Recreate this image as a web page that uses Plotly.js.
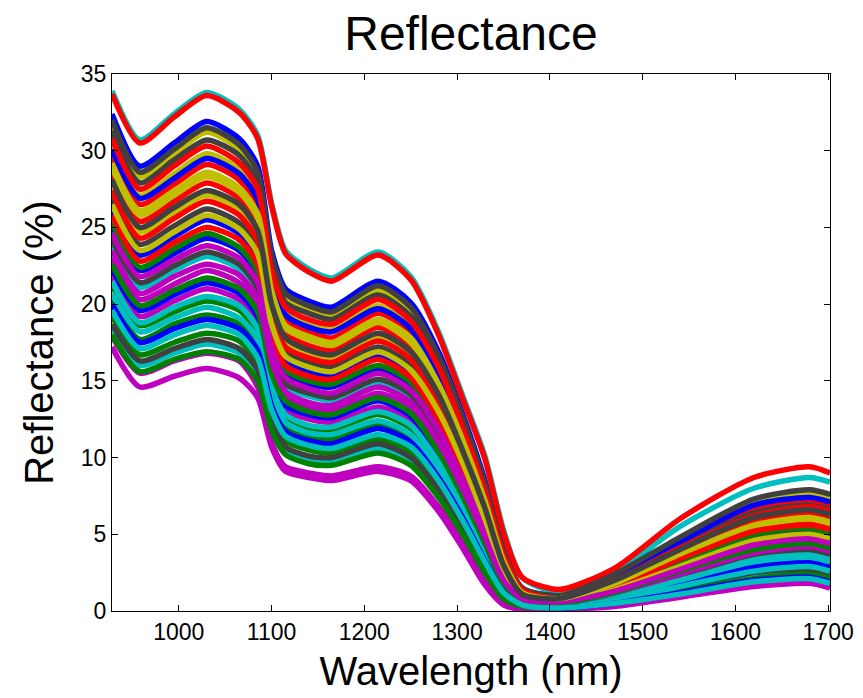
<!DOCTYPE html>
<html>
<head>
<meta charset="utf-8">
<script src="https://cdn.plot.ly/plotly-3.0.1.min.js"></script>
<style>html,body{margin:0;padding:0;background:#fff;}#chart{width:863px;height:698px;}</style>
</head>
<body>
<div id="chart"></div>
<script>
// Wavelength sampling points (nm)
const wavelength = [928, 958, 995, 1030, 1065, 1085, 1100, 1115, 1140, 1165, 1215, 1250, 1280, 1305, 1330, 1350, 1370, 1410, 1470, 1540, 1620, 1680, 1702];

// Axis tick values
const xTicks = [1000, 1100, 1200, 1300, 1400, 1500, 1600, 1700];
const yTicks = [0, 5, 10, 15, 20, 25, 30, 35];

// Reflectance spectra (%), one array per sample, in plotting order
const s00 = [25.1,22.2,23.3,24.3,23.5,21.9,17.5,15.5,14.8,14.6,15.8,14.7,12.1,9.0,5.4,2.4,0.9,0.7,1.5,3.2,4.9,5.3,5.0];
const s01 = [21.2,18.6,19.5,20.2,19.6,18.1,14.4,12.6,11.9,11.8,12.8,11.9,9.5,6.8,3.8,1.5,0.6,0.4,1.0,2.1,3.4,3.7,3.4];
const s02 = [28.5,25.4,26.7,27.9,26.9,25.2,20.3,18.1,17.3,17.0,18.5,17.2,14.3,10.9,6.9,3.1,1.2,0.7,1.7,3.5,5.3,5.8,5.5];
const s03 = [33.9,30.7,32.4,33.8,32.7,31.0,26.6,23.5,22.3,21.7,23.4,21.8,18.2,14.2,10.1,5.3,2.2,1.2,2.5,5.5,8.0,8.7,8.4];
const s04 = [23.0,20.3,21.3,22.2,21.4,19.9,15.9,14.0,13.3,13.1,14.2,13.3,10.7,7.9,4.6,1.9,0.7,0.5,1.3,2.6,4.1,4.5,4.2];
const s05 = [31.7,28.3,29.8,31.2,30.1,28.3,22.9,20.5,19.7,19.3,20.9,19.6,16.4,12.6,8.2,3.8,1.4,0.9,2.1,4.3,6.5,7.1,6.8];
const s06 = [26.9,23.9,25.1,26.2,25.3,23.7,19.1,16.9,16.2,15.9,17.2,16.0,13.3,10.0,6.2,2.8,1.0,0.6,1.5,3.1,4.7,5.1,4.8];
const s07 = [32.4,29.0,30.5,31.9,30.8,29.0,23.5,21.0,20.2,19.8,21.5,20.1,16.9,13.0,8.5,4.0,1.5,1.0,2.3,4.7,7.1,7.7,7.4];
const s08 = [19.2,16.7,17.5,18.1,17.6,16.1,12.7,11.1,10.5,10.3,11.2,10.4,8.2,5.7,3.0,1.1,0.4,0.2,0.4,1.0,1.7,1.9,1.6];
const s09 = [33.7,30.5,32.2,33.6,32.5,30.8,26.4,23.3,22.1,21.5,23.2,21.6,18.0,14.0,9.9,5.1,2.2,1.4,2.8,6.0,8.7,9.4,9.0];
const s10 = [23.9,21.1,22.2,23.1,22.3,20.7,16.6,14.6,14.0,13.7,14.9,13.9,11.3,8.3,5.0,2.1,0.8,0.5,1.0,2.2,3.5,3.8,3.5];
const s11 = [17.2,14.6,15.3,15.8,15.2,13.9,10.7,9.1,8.7,8.5,9.1,8.5,6.5,4.2,1.7,0.4,0.1,0.1,0.3,0.9,1.6,1.8,1.5];
const s12 = [30.4,27.1,28.5,29.8,28.8,27.0,21.9,19.5,18.7,18.4,19.9,18.6,15.6,11.9,7.7,3.6,1.3,1.0,2.3,4.6,7.0,7.6,7.3];
const s13 = [24.2,21.4,22.5,23.4,22.6,21.0,16.8,14.8,14.2,13.9,15.1,14.1,11.5,8.5,5.1,2.2,0.8,0.5,1.1,2.3,3.7,4.0,3.7];
const s14 = [26.2,23.2,24.4,25.5,24.6,23.0,18.5,16.4,15.6,15.4,16.7,15.5,12.8,9.6,5.9,2.6,1.0,0.6,1.4,2.9,4.4,4.8,4.5];
const s15 = [20.3,17.7,18.7,19.3,18.7,17.2,13.7,11.9,11.3,11.2,12.1,11.2,8.9,6.4,3.5,1.3,0.5,0.4,0.9,1.9,3.0,3.3,3.0];
const s16 = [29.7,26.5,27.8,29.1,28.1,26.3,21.3,19.0,18.2,17.8,19.4,18.1,15.1,11.5,7.4,3.4,1.3,0.9,2.2,4.4,6.7,7.2,6.9];
const s17 = [18.4,16.0,16.8,17.4,16.8,15.4,12.2,10.5,9.9,9.8,10.6,9.8,7.7,5.3,2.7,0.9,0.3,0.3,0.6,1.4,2.3,2.6,2.3];
const s18 = [21.9,19.2,20.2,21.0,20.3,18.8,15.0,13.1,12.5,12.3,13.3,12.4,10.0,7.2,4.1,1.7,0.6,0.4,0.8,1.7,2.8,3.0,2.7];
const s19 = [27.8,24.7,26.0,27.1,26.2,24.5,19.8,17.5,16.8,16.5,17.9,16.7,13.9,10.5,6.6,3.0,1.1,0.8,1.9,3.9,6.0,6.5,6.2];
const s20 = [31.3,27.9,29.4,30.7,29.7,27.9,22.6,20.1,19.4,19.0,20.6,19.2,16.1,12.4,8.0,3.7,1.4,0.9,2.1,4.2,6.4,6.9,6.6];
const s21 = [22.3,19.6,20.6,21.4,20.7,19.2,15.3,13.4,12.8,12.6,13.7,12.7,10.3,7.5,4.3,1.8,0.7,0.4,0.8,1.8,2.9,3.2,2.9];
const s22 = [25.3,22.4,23.6,24.6,23.7,22.1,17.8,15.7,15.0,14.8,16.0,14.9,12.3,9.1,5.6,2.4,0.9,0.7,1.6,3.2,5.0,5.4,5.1];
const s23 = [27.4,24.3,25.6,26.7,25.8,24.1,19.4,17.2,16.5,16.2,17.6,16.4,13.6,10.2,6.4,2.9,1.1,0.8,1.9,3.8,5.8,6.3,6.0];
const s24 = [20.7,18.2,19.1,19.8,19.1,17.7,14.0,12.3,11.6,11.5,12.4,11.5,9.2,6.6,3.6,1.4,0.5,0.4,0.9,2.0,3.2,3.5,3.2];
const s25 = [17.9,15.5,16.3,16.8,16.3,14.6,11.0,9.4,9.0,8.8,9.4,8.8,6.8,4.5,1.9,0.5,0.2,0.2,0.5,1.2,2.0,2.2,1.9];
const s26 = [28.9,25.8,27.1,28.3,27.3,25.6,20.7,18.4,17.7,17.3,18.8,17.5,14.6,11.1,7.1,3.2,1.2,0.7,1.8,3.6,5.5,6.0,5.7];
const s27 = [18.7,16.3,17.1,17.7,17.1,15.7,12.4,10.7,10.1,10.0,10.9,10.0,7.9,5.5,2.8,1.0,0.4,0.3,0.7,1.5,2.5,2.7,2.4];
const s28 = [30.1,26.9,28.2,29.5,28.5,26.8,21.6,19.3,18.5,18.2,19.7,18.4,15.4,11.7,7.5,3.5,1.3,0.9,2.2,4.5,6.9,7.4,7.1];
const s29 = [18.0,15.6,16.4,16.9,16.4,15.0,11.8,10.2,9.6,9.5,10.3,9.5,7.4,5.1,2.5,0.8,0.3,0.3,0.6,1.3,2.1,2.4,2.1];
const s30 = [25.8,22.8,24.0,25.0,24.2,22.6,18.1,16.0,15.3,15.1,16.4,15.2,12.5,9.4,5.7,2.5,1.0,0.7,1.6,3.4,5.2,5.6,5.3];
const s31 = [21.5,18.8,19.8,20.5,19.9,18.4,14.6,12.8,12.1,12.0,13.0,12.1,9.7,7.0,3.9,1.6,0.6,0.3,0.7,1.6,2.6,2.9,2.6];
const s32 = [24.6,21.8,22.9,23.8,23.0,21.4,17.2,15.2,14.5,14.2,15.5,14.4,11.8,8.7,5.3,2.3,0.9,0.5,1.2,2.4,3.8,4.2,3.9];
const s33 = [26.5,23.5,24.7,25.8,24.9,23.3,18.7,16.6,15.9,15.6,16.9,15.7,13.0,9.8,6.0,2.7,1.0,0.6,1.4,2.9,4.6,5.0,4.7];
const s34 = [32.0,28.6,30.1,31.5,30.4,28.6,23.2,20.7,19.9,19.5,21.2,19.8,16.6,12.8,8.3,3.9,1.5,1.0,2.4,4.8,7.3,7.9,7.6];
const s35 = [20.0,17.5,18.4,19.0,18.4,17.0,13.4,11.7,11.1,10.9,11.9,11.0,8.7,6.2,3.3,1.3,0.5,0.2,0.5,1.2,2.0,2.2,1.9];
const s36 = [22.6,19.9,20.9,21.7,21.0,19.5,15.5,13.7,13.0,12.8,13.9,12.9,10.4,7.6,4.4,1.8,0.7,0.5,1.2,2.6,4.0,4.4,4.1];
const s37 = [30.8,27.5,29.0,30.3,29.2,27.5,22.2,19.8,19.0,18.7,20.3,18.9,15.9,12.1,7.8,3.7,1.4,0.8,2.0,4.1,6.2,6.8,6.5];
const s38 = [19.6,17.1,18.0,18.6,18.0,16.5,13.1,11.4,10.8,10.6,11.5,10.7,8.5,6.0,3.2,1.2,0.4,0.2,0.5,1.1,1.9,2.1,1.8];
const s39 = [23.5,20.7,21.8,22.6,21.9,20.3,16.3,14.3,13.6,13.4,14.6,13.6,11.0,8.1,4.8,2.0,0.8,0.6,1.3,2.7,4.3,4.7,4.4];
const s40 = [29.2,26.1,27.4,28.6,27.6,25.9,20.9,18.6,17.9,17.5,19.0,17.8,14.8,11.3,7.2,3.3,1.2,0.8,1.8,3.7,5.6,6.1,5.8];
const s41 = [28.1,25.0,26.3,27.4,26.5,24.8,20.0,17.8,17.0,16.7,18.1,16.9,14.1,10.6,6.7,3.0,1.1,0.8,2.0,4.0,6.1,6.6,6.3];

const spectra = [s00,s01,s02,s03,s04,s05,s06,s07,s08,s09,s10,s11,s12,s13,s14,s15,s16,s17,s18,s19,s20,
                 s21,s22,s23,s24,s25,s26,s27,s28,s29,s30,s31,s32,s33,s34,s35,s36,s37,s38,s39,s40,s41];

// MATLAB classic color order
const palette = ['#0000FF', '#008000', '#FF0000', '#00BFBF', '#BF00BF', '#BFBF00', '#404040'];

const traces = spectra.map((y, i) => ({
  x: wavelength,
  y: y,
  type: 'scatter',
  mode: 'lines',
  line: {color: palette[i % palette.length], width: 5.5, shape: 'spline', smoothing: 0.7},
  hoverinfo: 'skip'
}));

const FONT = 'Liberation Sans, Arial, Helvetica, sans-serif';

const axisCommon = {
  showline: true, linecolor: '#000', linewidth: 1, mirror: 'ticks',
  ticks: 'inside', ticklen: 6, tickcolor: '#000', tickwidth: 1,
  showgrid: false, zeroline: false,
  tickfont: {family: FONT, size: 23, color: '#000'}
};

const layout = {
  width: 863, height: 698,
  margin: {l: 112, r: 33, t: 74, b: 87},
  paper_bgcolor: '#fff', plot_bgcolor: '#fff',
  showlegend: false,
  font: {family: FONT, color: '#000'},
  title: {text: 'Reflectance', font: {family: FONT, size: 48, color: '#000'},
          x: 0.5, xref: 'paper', xanchor: 'center', y: 0.953, yref: 'container', yanchor: 'middle'},
  xaxis: Object.assign({}, axisCommon, {
    range: [928, 1702], tickvals: xTicks, ticktext: xTicks.map(String),
    title: {text: 'Wavelength (nm)', font: {family: FONT, size: 40, color: '#000'}, standoff: 13}
  }),
  yaxis: Object.assign({}, axisCommon, {
    range: [0, 35], tickvals: yTicks, ticktext: yTicks.map(String),
    title: {text: 'Reflectance (%)', font: {family: FONT, size: 40, color: '#000'}, standoff: 14}
  })
};

Plotly.newPlot('chart', traces, layout, {displayModeBar: false, staticPlot: true});
</script>
</body>
</html>
